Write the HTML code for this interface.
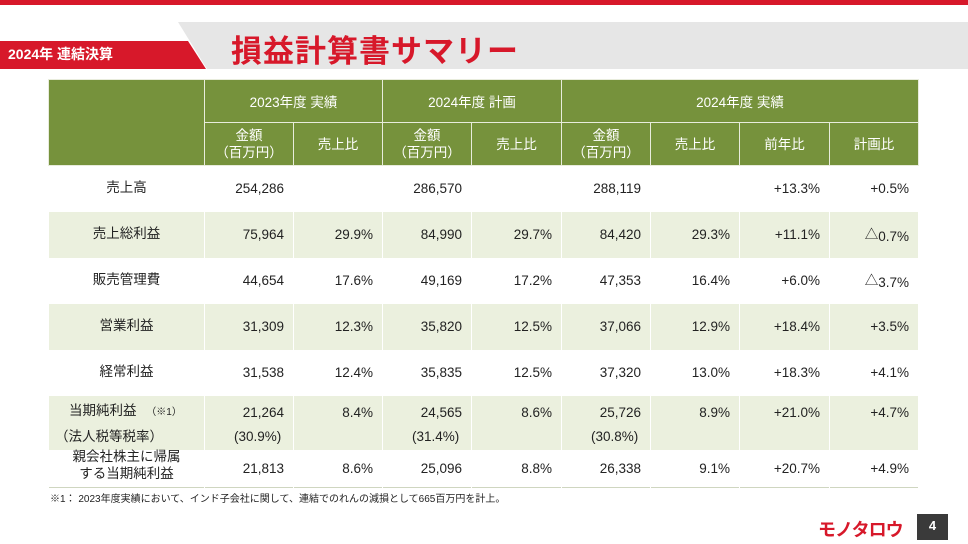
<!DOCTYPE html>
<html><head><meta charset="utf-8"><style>
*{margin:0;padding:0;box-sizing:border-box}
body{width:968px;height:544px;background:#fff;position:relative;overflow:hidden;font-family:"Liberation Sans","Noto Sans CJK JP",sans-serif;color:#222}
.abs{position:absolute}
table{position:absolute;left:48px;top:79px;border-collapse:collapse;table-layout:fixed;font-size:13.5px}
td{border:1px solid #fff;padding:0 9px;text-align:right;vertical-align:middle}
thead td{background:#76923c;color:#fff;text-align:center;border-color:#e8ecdc}
tbody td{border-left:1px solid #fff;border-right:1px solid #fff;border-top:none;border-bottom:none}
tr.g td{background:#ebf0de}
td.l{text-align:center}
td.l span.u{position:relative;top:-3px}
</style></head><body>
<div class="abs" style="left:0;top:0;width:968px;height:5px;background:#d7182a"></div>
<svg class="abs" style="left:0;top:0" width="968" height="75">
<polygon points="178,22 968,22 968,69 207,69" fill="#e6e6e6"/>
<polygon points="0,41 188,41 206,69 0,69" fill="#d7182a"/>
</svg>
<div class="abs" style="left:8px;top:44px;color:#fff;font-weight:bold;font-size:14px">2024年 連結決算</div>
<div class="abs" style="left:231px;top:26px;color:#d7182a;font-weight:bold;font-size:31px;letter-spacing:1px">損益計算書サマリー</div>
<table>
<colgroup><col style="width:156px"><col style="width:89px"><col style="width:89px"><col style="width:89px"><col style="width:90px"><col style="width:89px"><col style="width:89px"><col style="width:90px"><col style="width:89px"></colgroup>
<thead>
<tr style="height:43px"><td rowspan="2"></td><td colspan="2">2023年度 実績</td><td colspan="2">2024年度 計画</td><td colspan="4">2024年度 実績</td></tr>
<tr style="height:43px;line-height:17px"><td>金額<br>（百万円）</td><td>売上比</td><td>金額<br>（百万円）</td><td>売上比</td><td>金額<br>（百万円）</td><td>売上比</td><td>前年比</td><td>計画比</td></tr>
</thead>
<tbody>
<tr style="height:46px"><td class="l"><span class="u">売上高</span></td><td>254,286</td><td></td><td>286,570</td><td></td><td>288,119</td><td></td><td>+13.3%</td><td>+0.5%</td></tr>
<tr class="g" style="height:46px"><td class="l"><span class="u">売上総利益</span></td><td>75,964</td><td>29.9%</td><td>84,990</td><td>29.7%</td><td>84,420</td><td>29.3%</td><td>+11.1%</td><td><span class="u" style="position:relative;top:-2px">△</span>0.7%</td></tr>
<tr style="height:46px"><td class="l"><span class="u">販売管理費</span></td><td>44,654</td><td>17.6%</td><td>49,169</td><td>17.2%</td><td>47,353</td><td>16.4%</td><td>+6.0%</td><td><span style="position:relative;top:-2px">△</span>3.7%</td></tr>
<tr class="g" style="height:46px"><td class="l"><span class="u">営業利益</span></td><td>31,309</td><td>12.3%</td><td>35,820</td><td>12.5%</td><td>37,066</td><td>12.9%</td><td>+18.4%</td><td>+3.5%</td></tr>
<tr style="height:46px"><td class="l"><span class="u">経常利益</span></td><td>31,538</td><td>12.4%</td><td>35,835</td><td>12.5%</td><td>37,320</td><td>13.0%</td><td>+18.3%</td><td>+4.1%</td></tr>
<tr class="g" style="height:54px;line-height:24px"><td class="l" style="padding-left:20px;text-align:left;vertical-align:top;padding-top:3px">当期純利益 <span style="font-size:10px;margin-left:6px">（※1）</span><br><span style="margin-left:-14px">（法人税等税率）</span></td><td style="vertical-align:top;padding-top:5px">21,264<br><span style="float:left;margin-left:20px">(30.9%)</span></td><td style="vertical-align:top;padding-top:5px">8.4%</td><td style="vertical-align:top;padding-top:5px">24,565<br><span style="float:left;margin-left:20px">(31.4%)</span></td><td style="vertical-align:top;padding-top:5px">8.6%</td><td style="vertical-align:top;padding-top:5px">25,726<br><span style="float:left;margin-left:20px">(30.8%)</span></td><td style="vertical-align:top;padding-top:5px">8.9%</td><td style="vertical-align:top;padding-top:5px">+21.0%</td><td style="vertical-align:top;padding-top:5px">+4.7%</td></tr>
<tr style="height:38px;line-height:17px;border-bottom:1px solid #cfd6c0"><td class="l"><span class="u">親会社株主に帰属<br>する当期純利益</span></td><td>21,813</td><td>8.6%</td><td>25,096</td><td>8.8%</td><td>26,338</td><td>9.1%</td><td>+20.7%</td><td>+4.9%</td></tr>
</tbody></table>
<div class="abs" style="left:50px;top:490px;font-size:10px">※1： 2023年度実績において、インド子会社に関して、連結でのれんの減損として665百万円を計上。</div>
<div class="abs" style="left:818px;top:516px;color:#d7182a;font-weight:bold;font-size:18px;letter-spacing:-1px">モノタロウ</div>
<div class="abs" style="left:917px;top:514px;width:31px;height:26px;background:#3a3a3a;color:#fff;font-weight:bold;font-size:13px;text-align:center;line-height:24px">4</div>
</body></html>
